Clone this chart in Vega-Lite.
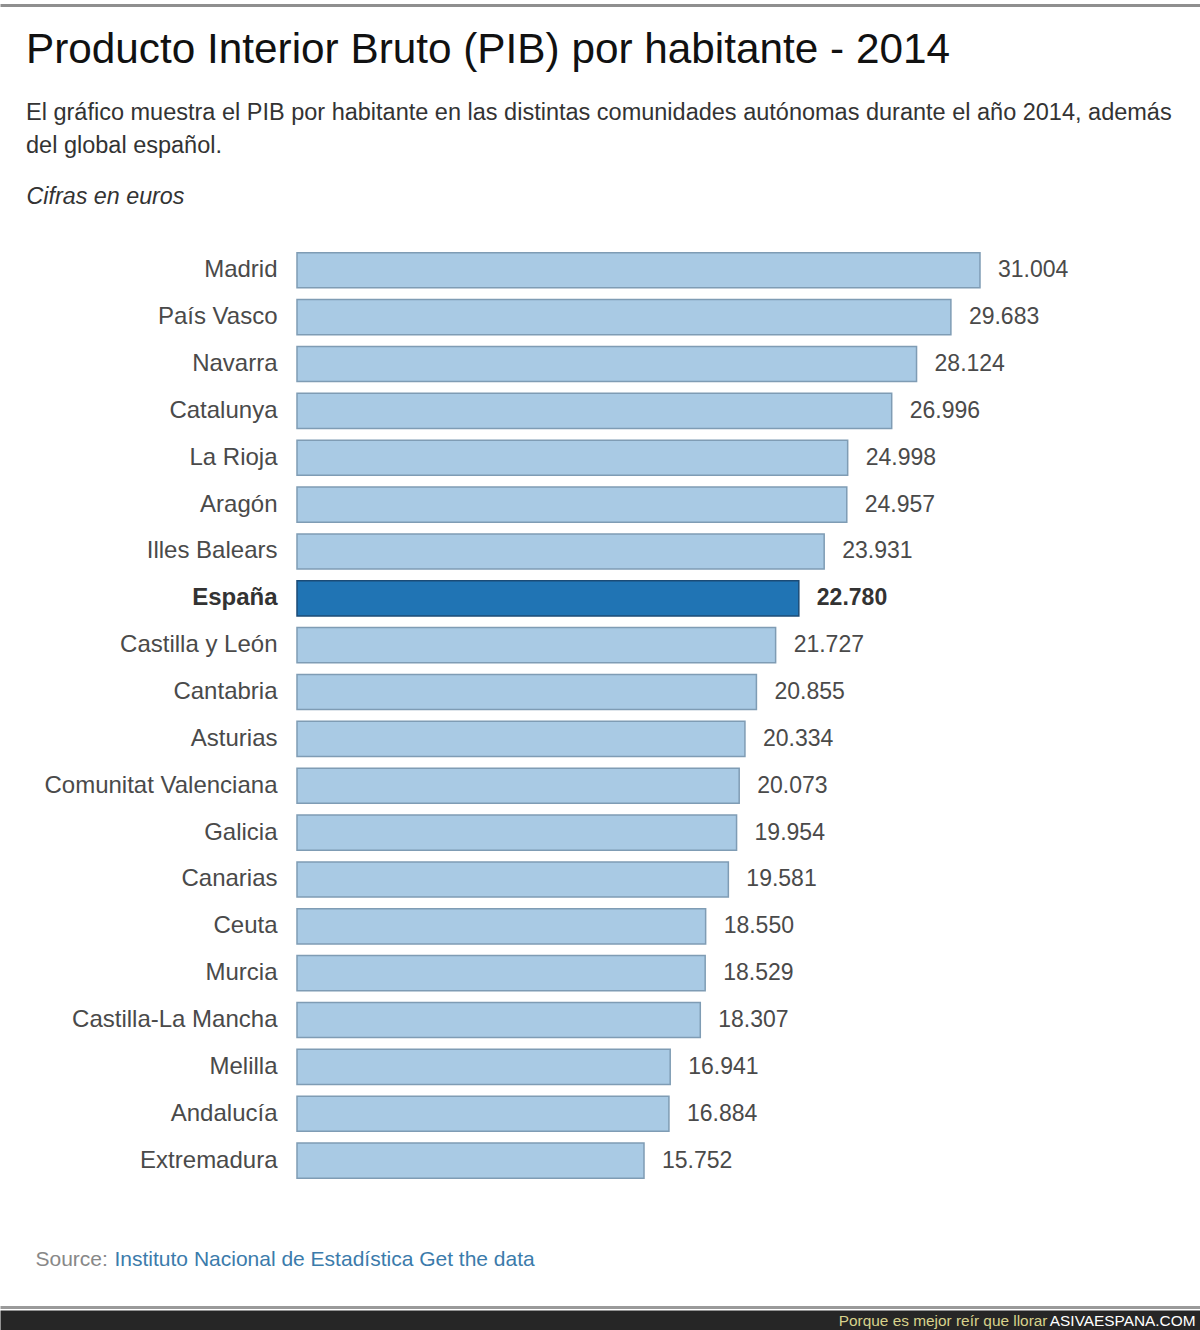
{
  "$schema": "https://vega.github.io/schema/vega-lite/v6.json",
  "width": 1200,
  "height": 1330,
  "autosize": {"type": "none"},
  "padding": 0,
  "background": "white",
  "config": {
    "font": "Liberation Sans",
    "view": {"stroke": null},
    "locale": {"number": {"decimal": ",", "thousands": ".", "grouping": [3], "currency": ["", " €"]}}
  },
  "title": {
    "text": "Producto Interior Bruto (PIB) por habitante - 2014",
    "subtitle": ["El gráfico muestra el PIB por habitante en las distintas comunidades autónomas durante el año 2014, además", "del global español."],
    "anchor": "start",
    "frame": "group",
    "orient": "top",
    "dx": 26,
    "dy": 162,
    "fontSize": 42.3,
    "fontWeight": "normal",
    "color": "#111111",
    "subtitleFontSize": 23.5,
    "subtitleColor": "#333333",
    "subtitleLineHeight": 33,
    "subtitlePadding": 28
  },
  "data": {
    "values": [
      {"region": "Madrid", "value": 31004},
      {"region": "País Vasco", "value": 29683},
      {"region": "Navarra", "value": 28124},
      {"region": "Catalunya", "value": 26996},
      {"region": "La Rioja", "value": 24998},
      {"region": "Aragón", "value": 24957},
      {"region": "Illes Balears", "value": 23931},
      {"region": "España", "value": 22780},
      {"region": "Castilla y León", "value": 21727},
      {"region": "Cantabria", "value": 20855},
      {"region": "Asturias", "value": 20334},
      {"region": "Comunitat Valenciana", "value": 20073},
      {"region": "Galicia", "value": 19954},
      {"region": "Canarias", "value": 19581},
      {"region": "Ceuta", "value": 18550},
      {"region": "Murcia", "value": 18529},
      {"region": "Castilla-La Mancha", "value": 18307},
      {"region": "Melilla", "value": 16941},
      {"region": "Andalucía", "value": 16884},
      {"region": "Extremadura", "value": 15752}
    ]
  },
  "layer": [
    {
      "mark": {"type": "bar", "strokeWidth": 1.5},
      "encoding": {
        "y": {
          "field": "region", "type": "nominal", "sort": null,
          "scale": {"range": [229.3, 1201.6], "paddingInner": 0.25, "paddingOuter": 0.5},
          "axis": {
            "orient": "left", "offset": -277, "domain": false, "ticks": false, "grid": false,
            "labelPadding": 0, "labelFontSize": 24, "labelLimit": 400,
            "labelColor": {"condition": {"test": "datum.value === 'España'", "value": "#333333"}, "value": "#4a4a4a"},
            "labelFontWeight": {"condition": {"test": "datum.value === 'España'", "value": "bold"}, "value": "normal"},
            "title": "Source:", "titleAngle": 0, "titleX": -242, "titleY": 1265,
            "titleAlign": "left", "titleBaseline": "alphabetic", "titleFontSize": 21,
            "titleFontWeight": "normal", "titleColor": "#888888"
          }
        },
        "x": {
          "field": "value", "type": "quantitative",
          "scale": {"domain": [-13482, 40991], "nice": false, "zero": false},
          "axis": {
            "orient": "top", "offset": -5, "labels": false, "ticks": false, "grid": false,
            "domainColor": "#8f8f8f", "domainWidth": 3,
            "title": "Cifras en euros", "titleX": 26, "titleY": 198, "titleAlign": "left",
            "titleBaseline": "alphabetic", "titleFontStyle": "italic", "titleFontWeight": "normal",
            "titleFontSize": 23.3, "titleColor": "#333333"
          }
        },
        "x2": {"datum": 0},
        "color": {"condition": {"test": "datum.region === 'España'", "value": "#2074b4"}, "value": "#a9cae4"},
        "stroke": {"condition": {"test": "datum.region === 'España'", "value": "#1b4b76"}, "value": "#7f9cb4"}
      }
    },
    {
      "mark": {"type": "text", "align": "left", "baseline": "middle", "dx": 18, "fontSize": 23, "color": "#4a4a4a"},
      "encoding": {
        "y": {
          "field": "region", "type": "nominal", "sort": null,
          "axis": {
            "orient": "right", "labels": false, "ticks": false, "domain": false, "grid": false,
            "title": "Instituto Nacional de Estadística Get the data", "titleAngle": 0,
            "titleX": -1086, "titleY": 1265, "titleAlign": "left", "titleBaseline": "alphabetic",
            "titleColor": "#3b7bab", "titleFontSize": 21, "titleFontWeight": "normal"
          }
        },
        "x": {
          "field": "value", "type": "quantitative",
          "axis": {
            "orient": "bottom", "offset": -10, "domainColor": "#262626", "domainWidth": 20,
            "labels": false, "ticks": false, "grid": false,
            "title": "Porque es mejor reír que llorar", "titleX": 1047, "titleY": 0,
            "titleAlign": "right", "titleBaseline": "middle", "titleColor": "#d8d28c",
            "titleFontSize": 15.4, "titleFontWeight": "normal"
          }
        },
        "text": {"field": "value", "type": "quantitative", "format": ",d"},
        "opacity": {"condition": {"test": "datum.region === 'España'", "value": 0}, "value": 1}
      }
    },
    {
      "mark": {"type": "text", "align": "left", "baseline": "middle", "dx": 18, "fontSize": 23, "fontWeight": "bold", "color": "#333333"},
      "encoding": {
        "y": {"field": "region", "type": "nominal", "sort": null, "axis": null},
        "x": {
          "field": "value", "type": "quantitative",
          "axis": {
            "orient": "bottom", "offset": -23, "domainColor": "#9a9a9a", "domainWidth": 3,
            "zindex": 1, "ticks": false, "tickSize": 0, "grid": false, "values": [40765],
            "labelExpr": "'ASIVAESPANA.COM'", "labelAlign": "right", "labelBaseline": "middle",
            "labelPadding": 13, "labelColor": "#ffffff", "labelFontSize": 15.4,
            "labelFlush": false, "labelOverlap": false, "title": null
          }
        },
        "text": {"field": "value", "type": "quantitative", "format": ",d"},
        "opacity": {"condition": {"test": "datum.region === 'España'", "value": 1}, "value": 0}
      }
    }
  ],
  "resolve": {"axis": {"x": "independent", "y": "independent"}}
}
